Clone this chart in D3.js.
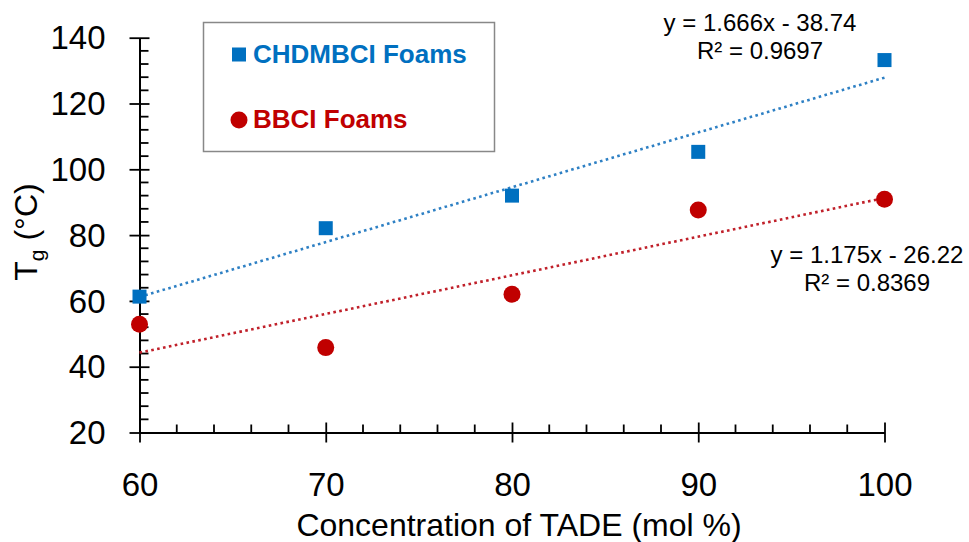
<!DOCTYPE html>
<html><head><meta charset="utf-8">
<script src="https://cdn.jsdelivr.net/npm/d3@7"></script>
<style>body{margin:0;background:#fff;}svg{display:block;}</style>
</head><body>
<script>
const concentrations = [60, 70, 80, 90, 100];
const chdmbciTg = [61.3, 82.1, 92.0, 105.3, 133.2];
const bbciTg = [52.9, 45.8, 62.0, 87.6, 90.9];
const seriesNames = ["CHDMBCI Foams", "BBCI Foams"];
const trendSlopes = [1.666, 1.175];
const trendIntercepts = [-38.74, -26.22];
const trendLabels = [["y = 1.666x - 38.74", "R² = 0.9697"], ["y = 1.175x - 26.22", "R² = 0.8369"]];
const xMajorTicks = [60, 70, 80, 90, 100];
const yMajorTicks = [20, 40, 60, 80, 100, 120, 140];

const W = 969, H = 542;
const blue = "#0070C0", red = "#C00000";
const blueLine = "#2E80C4", redLine = "#C0202A";
const font = "'Liberation Sans', Arial, sans-serif";

const svg = d3.select("body").append("svg").attr("width", W).attr("height", H);
const x = d3.scaleLinear().domain([60, 100]).range([139.5, 884.5]);
const y = d3.scaleLinear().domain([20, 140]).range([432.5, 37.7]);

// minor ticks
const xMinor = d3.range(60, 100.01, 2).filter(v => v % 10 !== 0);
const yMinor = d3.range(20, 140.01, 4).filter(v => v % 20 !== 0);

const g = svg.append("g");
g.selectAll(".xminor").data(xMinor).join("line")
  .attr("x1", d => x(d)).attr("x2", d => x(d))
  .attr("y1", y(20)).attr("y2", y(20) - 8)
  .attr("stroke", "#000").attr("stroke-width", 1.8);
g.selectAll(".yminor").data(yMinor).join("line")
  .attr("y1", d => y(d)).attr("y2", d => y(d))
  .attr("x1", x(60)).attr("x2", x(60) + 9)
  .attr("stroke", "#000").attr("stroke-width", 1.8);

// axes via d3 axis
const xAxis = d3.axisBottom(x).tickValues(xMajorTicks).tickSize(10).tickSizeOuter(0).tickPadding(30).tickFormat(d3.format("d"));
const yAxis = d3.axisLeft(y).tickValues(yMajorTicks).tickSize(10).tickSizeOuter(0).tickPadding(24).tickFormat(d3.format("d"));

const gx = svg.append("g").attr("transform", `translate(0,${y(20)})`).call(xAxis);
const gy = svg.append("g").attr("transform", `translate(${x(60)},0)`).call(yAxis);
[gx, gy].forEach(a => {
  a.select(".domain").attr("stroke", "#000").attr("stroke-width", 2);
  a.selectAll(".tick line").attr("stroke", "#000").attr("stroke-width", 1.8);
  a.selectAll(".tick text").attr("font-family", font).attr("font-size", 33).attr("fill", "#000");
});
// make major ticks cross the axis
gx.selectAll(".tick line").attr("y1", -10).attr("y2", 10);
gy.selectAll(".tick line").attr("x1", 10).attr("x2", -10);
gy.selectAll(".tick text").attr("dy", "0.34em");

// axis titles
svg.append("text").attr("x", 519).attr("y", 536).attr("text-anchor", "middle")
  .attr("font-family", font).attr("font-size", 32).text("Concentration of TADE (mol %)");
const yt = svg.append("text").attr("transform", "translate(37,232) rotate(-90)")
  .attr("text-anchor", "middle").attr("font-family", font).attr("font-size", 32);
yt.append("tspan").text("T");
yt.append("tspan").attr("font-size", 21).attr("dy", 7).text("g");
yt.append("tspan").attr("dy", -7).text(" (°C)");

// trend lines
const trendData = [0, 1].map(i => ({
  color: i === 0 ? blueLine : redLine,
  pts: [60, 100].map(c => [c, trendSlopes[i] * c + trendIntercepts[i]])
}));
const line = d3.line().x(d => x(d[0])).y(d => y(d[1]));
svg.selectAll(".trend").data(trendData).join("path")
  .attr("d", d => line(d.pts)).attr("fill", "none")
  .attr("stroke", d => d.color).attr("stroke-width", 2.6)
  .attr("stroke-dasharray", "2.6,3.4");

// markers
const sq = 14;
svg.selectAll(".sq").data(concentrations.map((c, i) => [c, chdmbciTg[i]])).join("rect")
  .attr("x", d => x(d[0]) - sq / 2).attr("y", d => y(d[1]) - sq / 2)
  .attr("width", sq).attr("height", sq).attr("fill", blue);
svg.selectAll(".ci").data(concentrations.map((c, i) => [c, bbciTg[i]])).join("circle")
  .attr("cx", d => x(d[0])).attr("cy", d => y(d[1])).attr("r", 8.5).attr("fill", red);

// trend labels
const tl = [{cx: 760, y0: 31}, {cx: 867, y0: 263}];
trendLabels.forEach((lbl, i) => {
  lbl.forEach((t, j) => {
    svg.append("text").attr("x", tl[i].cx).attr("y", tl[i].y0 + j * 28)
      .attr("text-anchor", "middle").attr("font-family", font).attr("font-size", 24).text(t);
  });
});

// legend
svg.append("rect").attr("x", 203.5).attr("y", 22.5).attr("width", 291).attr("height", 129)
  .attr("fill", "#fff").attr("stroke", "#888").attr("stroke-width", 1.5);
svg.append("rect").attr("x", 232).attr("y", 47.5).attr("width", 14).attr("height", 14).attr("fill", blue);
svg.append("circle").attr("cx", 239).attr("cy", 120).attr("r", 8.5).attr("fill", red);
svg.append("text").attr("x", 253).attr("y", 63).attr("font-family", font).attr("font-weight", "bold")
  .attr("font-size", 26).attr("fill", blue).text(seriesNames[0]);
svg.append("text").attr("x", 253).attr("y", 128).attr("font-family", font).attr("font-weight", "bold")
  .attr("font-size", 26).attr("fill", red).text(seriesNames[1]);
</script>
</body></html>
